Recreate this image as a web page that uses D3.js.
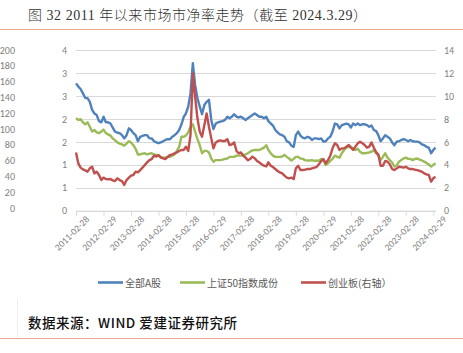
<!DOCTYPE html>
<html>
<head>
<meta charset="utf-8">
<script src="https://cdn.jsdelivr.net/npm/d3@7"></script>
<style>
  body { margin: 0; background: #fff; }
  svg { display: block; }
</style>
</head>
<body>
<div id="chart"></div>
<script>
const width = 463;
const height = 353;

// monthly readings, Feb 2011 .. Mar 2024
const allA = [
  3.17, 3.09, 3.03, 2.92, 2.81, 2.80, 2.71, 2.51, 2.42, 2.38, 2.23, 2.20,
  2.34, 2.20, 2.20, 2.17, 2.07, 1.97, 1.94, 1.93, 1.88, 1.80, 1.88, 2.05,
  2.01, 1.93, 1.88, 1.73, 1.84, 1.86, 1.88, 1.88, 1.80, 1.80, 1.73, 1.70,
  1.68, 1.70, 1.73, 1.76, 1.78, 1.78, 1.84, 1.88, 1.93, 2.01, 2.15, 2.34,
  2.42, 2.59, 2.92, 3.67, 3.13, 2.80, 2.59, 2.40, 2.63, 2.71, 2.76, 2.26,
  2.03, 2.17, 2.20, 2.22, 2.23, 2.26, 2.34, 2.30, 2.34, 2.40, 2.34, 2.32,
  2.34, 2.30, 2.26, 2.30, 2.34, 2.38, 2.42, 2.38, 2.34, 2.34, 2.30, 2.34,
  2.23, 2.17, 2.12, 2.01, 1.95, 1.90, 1.88, 1.84, 1.73, 1.70, 1.62, 1.59,
  1.88, 1.97, 1.87, 1.82, 1.80, 1.84, 1.82, 1.76, 1.80, 1.80, 1.78, 1.80,
  1.72, 1.73, 1.80, 1.84, 1.97, 2.17, 2.15, 2.05, 2.13, 2.15, 2.17, 2.15,
  2.07, 2.17, 2.13, 2.17, 2.13, 2.15, 2.15, 2.13, 2.09, 2.12, 2.01, 1.98,
  1.88, 1.73, 1.80, 1.88, 1.84, 1.80, 1.70, 1.63, 1.72, 1.73, 1.76, 1.78,
  1.76, 1.73, 1.76, 1.73, 1.72, 1.72, 1.70, 1.65, 1.63, 1.59, 1.57, 1.43,
  1.51, 1.57
];

const sz50 = [
  2.30, 2.26, 2.28, 2.20, 2.15, 2.20, 2.09, 1.97, 2.01, 1.95, 1.93, 1.97,
  2.02, 1.93, 1.90, 1.87, 1.80, 1.75, 1.70, 1.67, 1.65, 1.62, 1.67, 1.73,
  1.70, 1.63, 1.54, 1.40, 1.40, 1.42, 1.43, 1.40, 1.42, 1.43, 1.40, 1.39,
  1.37, 1.34, 1.32, 1.32, 1.34, 1.34, 1.37, 1.40, 1.49, 1.59, 1.84, 1.84,
  1.87, 1.95, 2.09, 2.15, 1.97, 1.78, 1.63, 1.43, 1.49, 1.49, 1.45, 1.30,
  1.22, 1.26, 1.26, 1.26, 1.27, 1.29, 1.30, 1.34, 1.34, 1.34, 1.37, 1.37,
  1.37, 1.39, 1.40, 1.43, 1.47, 1.50, 1.51, 1.51, 1.51, 1.54, 1.57, 1.63,
  1.51, 1.43, 1.37, 1.34, 1.34, 1.34, 1.35, 1.39, 1.34, 1.30, 1.25, 1.29,
  1.34, 1.34, 1.30, 1.29, 1.26, 1.25, 1.25, 1.26, 1.24, 1.25, 1.24, 1.29,
  1.26, 1.14, 1.18, 1.24, 1.29, 1.37, 1.34, 1.32, 1.43, 1.51, 1.57, 1.59,
  1.59, 1.55, 1.51, 1.54, 1.47, 1.43, 1.43, 1.44, 1.45, 1.47, 1.51, 1.43,
  1.37, 1.26, 1.34, 1.43, 1.32, 1.26, 1.20, 1.10, 1.13, 1.22, 1.26, 1.30,
  1.32, 1.29, 1.29, 1.26, 1.29, 1.30, 1.27, 1.25, 1.22, 1.19, 1.15, 1.10,
  1.14, 1.18
];

const cyb = [
  5.08, 4.12, 3.75, 3.60, 3.51, 3.40, 3.69, 3.83, 3.25, 3.40, 3.11, 2.67,
  2.88, 2.76, 2.73, 2.76, 2.64, 2.58, 2.82, 2.67, 2.58, 2.24, 2.67, 2.88,
  3.05, 3.11, 3.40, 3.34, 3.54, 3.75, 3.98, 4.21, 4.41, 4.50, 4.79, 4.71,
  4.85, 4.62, 4.56, 4.50, 4.68, 4.85, 4.91, 5.00, 5.08, 5.20, 5.29, 5.29,
  5.58, 5.20, 6.59, 11.95, 9.93, 8.05, 6.88, 6.45, 7.46, 8.48, 7.32, 6.30,
  5.43, 5.95, 6.07, 6.13, 6.07, 6.07, 6.24, 5.72, 5.78, 5.95, 5.20, 5.00,
  5.08, 4.79, 4.62, 4.39, 4.50, 4.71, 4.56, 4.33, 4.21, 4.04, 3.92, 3.86,
  4.21, 3.92, 3.80, 3.63, 3.46, 3.34, 3.25, 3.05, 2.88, 2.82, 2.88, 2.76,
  3.69, 3.92, 3.54, 3.54, 3.57, 3.63, 3.63, 3.69, 3.75, 3.80, 4.04, 4.33,
  4.50, 4.12, 4.41, 4.79, 5.43, 5.87, 5.72, 5.29, 5.43, 5.43, 5.58, 5.72,
  5.49, 5.29, 5.58, 5.87, 6.01, 5.87, 5.72, 5.49, 5.58, 5.95, 5.49, 5.08,
  4.91, 3.92, 3.92, 4.33, 4.27, 4.04, 3.63, 3.54, 3.69, 3.83, 3.80, 3.75,
  3.83, 3.69, 3.63, 3.63, 3.57, 3.54, 3.46, 3.40, 3.25, 3.16, 3.11, 2.53,
  2.82, 2.96
];

const tickLabels = [
  "2011-02-28", "2012-02-29", "2013-02-28", "2014-02-28", "2015-02-28",
  "2016-02-29", "2017-02-28", "2018-02-28", "2019-02-28", "2020-02-29",
  "2021-02-28", "2022-02-28", "2023-02-28", "2024-02-29"
];

const seriesNames = ["全部A股", "上证50指数成份", "创业板(右轴）"];
const colors = ["#4f81bd", "#9bbb59", "#c0504d"];
const ghostTicks = [0, 20, 40, 60, 80, 100, 120, 140, 160, 180, 200];

const parse = d3.timeParse("%Y-%m-%d");
// month-end dates for each reading
const dates = allA.map((_, i) => new Date(2011, 2 + i, 0));
dates[dates.length - 1] = parse("2024-03-29");

const svg = d3
  .select("#chart")
  .append("svg")
  .attr("width", width)
  .attr("height", height);

const axisFont = "Calibri, Lato, 'Noto Sans', sans-serif";
const grey = "#7f7f7f";

// title
svg.append("text")
  .attr("x", 28)
  .attr("y", 19.5)
  .attr("textLength", 339)
  .attr("lengthAdjust", "spacing")
  .style("font-family", "'Liberation Serif', 'Noto Sans CJK SC', serif")
  .style("font-size", "14px")
  .style("font-weight", 300)
  .style("fill", "#333")
  .text("图 32 2011 年以来市场市净率走势（截至 2024.3.29）");

svg.append("line")
  .attr("x1", 0).attr("x2", width)
  .attr("y1", 29.5).attr("y2", 29.5)
  .style("stroke", "#eea98a")
  .style("stroke-width", 1);

// scales
const x = d3.scaleTime()
  .domain([parse("2011-02-28"), parse("2024-02-29")])
  .range([76, 433.3]);

const yL = d3.scaleLinear().domain([0, 4]).range([210.7, 50]);
const yR = d3.scaleLinear().domain([0, 14]).range([210.7, 50]);
const yGhost = d3.scaleLinear().domain([0, 200]).range([208, 50]);

const leftTicks = d3.range(8).map((i) => (i * 4) / 7);

// gridlines
svg.append("g")
  .selectAll("line")
  .data(leftTicks)
  .enter()
  .append("line")
  .attr("x1", 76)
  .attr("x2", 436)
  .attr("y1", (d) => Math.round(yL(d)) + 0.5)
  .attr("y2", (d) => Math.round(yL(d)) + 0.5)
  .style("stroke", "#d9d9d9")
  .style("stroke-width", 1);

// ghost axis from neighbouring chart at the far left
svg.append("g")
  .selectAll("text")
  .data(ghostTicks)
  .enter()
  .append("text")
  .attr("x", 15)
  .attr("y", (d) => yGhost(d) + 3.5)
  .attr("text-anchor", "end")
  .style("font-family", axisFont)
  .style("font-size", "10px")
  .style("fill", grey)
  .text((d) => d);

// left axis
const gl = svg.append("g")
  .attr("transform", "translate(70,0)")
  .call(d3.axisLeft(yL).tickValues(leftTicks).tickFormat(d3.format(".0f")).tickSize(0));
gl.select(".domain").remove();

// right axis
const gr = svg.append("g")
  .attr("transform", "translate(441,0)")
  .call(d3.axisRight(yR).tickValues(d3.range(0, 15, 2)).tickSize(0));
gr.select(".domain").remove();

[gl, gr].forEach((g) =>
  g.selectAll("text")
    .style("font-family", axisFont)
    .style("font-size", "10px")
    .style("fill", grey)
);

// bottom axis
const gx = svg.append("g")
  .attr("transform", "translate(0,210.7)")
  .call(
    d3.axisBottom(x)
      .tickValues(tickLabels.map(parse))
      .tickFormat(d3.timeFormat("%Y-%m-%d"))
      .tickSize(5)
      .tickSizeOuter(0)
  );
gx.select(".domain").attr("d", "M76,0.5H436").style("stroke", "#d9d9d9");
gx.selectAll(".tick line").style("stroke", "#d9d9d9");
gx.selectAll("text")
  .attr("text-anchor", "end")
  .attr("dx", "3")
  .attr("dy", "8")
  .attr("transform", "rotate(-45)")
  .style("font-family", axisFont)
  .style("font-size", "9.5px")
  .style("fill", grey);

// series
const lineL = d3.line().x((d, i) => x(dates[i])).y((d) => yL(d));
const lineR = d3.line().x((d, i) => x(dates[i])).y((d) => yR(d));

[[allA, lineL], [sz50, lineL], [cyb, lineR]].forEach(([vals, gen], k) => {
  svg.append("path")
    .datum(vals)
    .attr("d", gen)
    .style("fill", "none")
    .style("stroke", colors[k])
    .style("stroke-width", 2.4)
    .style("stroke-linejoin", "round");
});

// legend
const legendX = [98, 180, 301];
const legend = svg.append("g");
seriesNames.forEach((name, i) => {
  legend.append("line")
    .attr("x1", legendX[i]).attr("x2", legendX[i] + 25)
    .attr("y1", 282.5).attr("y2", 282.5)
    .style("stroke", colors[i])
    .style("stroke-width", 2.6);
  legend.append("text")
    .attr("x", legendX[i] + 27)
    .attr("y", 286.5)
    .style("font-family", "'Noto Sans CJK SC', sans-serif")
    .style("font-size", "10px")
    .style("fill", "#595959")
    .text(name);
});

// footer
svg.append("line")
  .attr("x1", 17.5).attr("x2", 17.5)
  .attr("y1", 298).attr("y2", 338)
  .style("stroke", "#efefef");

svg.append("text")
  .attr("x", 28)
  .attr("y", 328)
  .attr("textLength", 209)
  .attr("lengthAdjust", "spacing")
  .style("font-family", "'Noto Sans CJK SC', sans-serif")
  .style("font-size", "13.5px")
  .style("font-weight", 500)
  .style("fill", "#111")
  .text("数据来源：WIND 爱建证券研究所");

svg.append("line")
  .attr("x1", 0).attr("x2", width)
  .attr("y1", 338.5).attr("y2", 338.5)
  .style("stroke", "#f4a58e")
  .style("stroke-width", 1);
</script>
</body>
</html>
